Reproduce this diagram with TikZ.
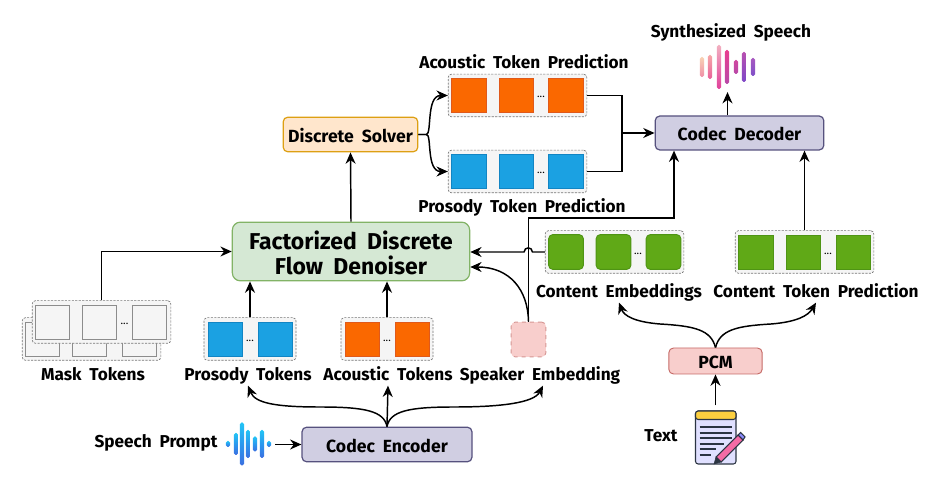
\documentclass[tikz,border=0pt]{standalone}
\usepackage{fontspec}
\setmainfont{Fira Sans}[WordSpace=1.9]
\usepackage{tikz}
\usetikzlibrary{arrows.meta,calc}

\definecolor{groupfill}{HTML}{F5F5F5}
\definecolor{groupline}{HTML}{777777}
\definecolor{orangefill}{HTML}{FA6800}
\definecolor{orangeline}{HTML}{E0591A}
\definecolor{bluefill}{HTML}{1BA1E2}
\definecolor{blueline}{HTML}{1285C4}
\definecolor{greenfill}{HTML}{60A917}
\definecolor{greenline}{HTML}{4F9414}
\definecolor{denoiserfill}{HTML}{D5E8D4}
\definecolor{denoiserline}{HTML}{82B366}
\definecolor{solverfill}{HTML}{FFE6CC}
\definecolor{solverline}{HTML}{DDA013}
\definecolor{codecfill}{HTML}{D0CEE2}
\definecolor{codecline}{HTML}{56517E}
\definecolor{pcmfill}{HTML}{F8CECC}
\definecolor{pcmline}{HTML}{C56A66}
\definecolor{notedark}{HTML}{2B3442}
\definecolor{wavecyan}{HTML}{22C4F5}
\definecolor{wavemid}{HTML}{2B98EE}
\definecolor{waveblue}{HTML}{3B6FE0}

\begin{document}
\begin{tikzpicture}[x=0.75pt,y=-0.75pt]
\tikzset{
	flow/.style = {line width = 1.1pt, -{Stealth[length = 8.5pt, width = 7.5pt]}},
	plain flow/.style = {line width = 1.1pt},
	label text/.style = {font = \fontsize{12.9}{14}\selectfont\bfseries, inner sep = 0, text height = 9pt, text depth = 0pt, outer ysep = 3.5pt},
	block/.style = {draw, rounded corners = 3.5pt, line width = 0.9pt, inner sep = 0, text height = 12pt, text depth = 0pt, font = \fontsize{13.2}{14}\selectfont\bfseries},
	group wide/.style = {draw = groupline, fill = groupfill, dash pattern = on 1.6pt off 1pt, line width = 0.5pt, rounded corners = 2.5pt, minimum width = 104pt, minimum height = 32pt, inner sep = 0},
	group narrow/.style = {group wide, minimum width = 69pt},
	token/.style = {draw, line width = 0.7pt, minimum size = 26pt, inner sep = 0},
	orange token/.style = {token, fill = orangefill, draw = orangeline},
	blue token/.style = {token, fill = bluefill, draw = blueline},
	green token/.style = {token, fill = greenfill, draw = greenline},
	mask token/.style = {token, fill = groupfill, draw = black!45, line width = 0.9pt},
	token dots/.style = {font = \fontsize{8}{8}\selectfont, inner sep = 0},
	icon box/.style = {inner sep = 0},
}
\useasboundingbox (0,0) rectangle (939,484);

% mask tokens, back row then front row
\node(mask back)[group wide] at (91.5,339){};
\foreach \n/\x in {1/42.5,2/89.5,3/139.5}
	\node(mb\n)[mask token] at (\x,339.5){};
\node(mask front)[group wide] at (101.5,322){};
\foreach \n/\x in {1/52.5,2/99.5,3/149.5}
	\node(mf\n)[mask token] at (\x,322.5){};
\node(mask dots)[token dots] at (124.5,324){...};
\node(mask label)[label text] at (93,375){Mask Tokens};

% input tokens
\node(prosody)[group narrow] at (250,339){};
\foreach \n/\x in {1/225.5,2/275.5}
	\node(pt\n)[blue token] at (\x,339.5){};
\node(prosody dots)[token dots] at (250,341){...};
\node(prosody label)[label text] at (248,375){Prosody Tokens};

\node(acoustic)[group narrow] at (387,339){};
\foreach \n/\x in {1/362.5,2/412.5}
	\node(at\n)[orange token] at (\x,339.5){};
\node(acoustic dots)[token dots] at (387,341){...};
\node(acoustic label)[label text] at (388,375){Acoustic Tokens};

\node(speaker)[token, draw = pcmline!70, fill = pcmfill, dashed, rounded corners = 3pt] at (528.5,339.5){};
\node(speaker label)[label text] at (540,375){Speaker Embedding};

% predictions
\node(acoustic pred)[group wide] at (517.5,95.5){};
\foreach \n/\x in {1/469,2/516.5,3/566}
	\node(ap\n)[orange token] at (\x,95.5){};
\node(acoustic pred dots)[token dots] at (541,97){...};
\node(acoustic pred label)[label text] at (524,63){Acoustic Token Prediction};

\node(prosody pred)[group wide] at (517.5,171.5){};
\foreach \n/\x in {1/469,2/516.5,3/566}
	\node(pp\n)[blue token] at (\x,171.5){};
\node(prosody pred dots)[token dots] at (541,173){...};
\node(prosody pred label)[label text] at (522,207){Prosody Token Prediction};

\node(content)[group wide] at (614.5,252){};
\foreach \n/\x in {1/566,2/613.5,3/663.5}
	\node(ce\n)[green token, rounded corners = 3pt] at (\x,252){};
\node(content dots)[token dots] at (638,254){...};
\node(content label)[label text] at (619,292){Content Embeddings};

\node(content pred)[group wide] at (804.5,252){};
\foreach \n/\x in {1/756,2/803.5,3/853.5}
	\node(cp\n)[green token] at (\x,252.5){};
\node(content pred dots)[token dots] at (828,254){...};
\node(content pred label)[label text] at (816,292){Content Token Prediction};

% main blocks
\node(denoiser)[block, fill = denoiserfill, draw = denoiserline, rounded corners = 6pt, minimum width = 178pt, minimum height = 44pt, align = center, text height = , text depth = , font = \fontsize{17.2}{19}\selectfont\bfseries] at (351,251.5){\rule{0pt}{16pt}Factorized Discrete\\Flow Denoiser};
\node(solver)[block, fill = solverfill, draw = solverline, minimum width = 101pt, minimum height = 26pt] at (350.5,134.5){Discrete Solver};
\node(decoder)[block, fill = codecfill, draw = codecline, minimum width = 126.5pt, minimum height = 25.5pt] at (739.5,133){Codec Decoder};
\node(encoder)[block, fill = codecfill, draw = codecline, minimum width = 127.5pt, minimum height = 26pt] at (387,444.5){Codec Encoder};
\node(pcm)[block, fill = pcmfill, draw = pcmline, line width = 0.7pt, minimum width = 70pt, minimum height = 19.5pt] at (715.5,361){PCM};

\node(prompt label)[label text] at (156,442){Speech Prompt};
\node(text label)[label text] at (661,435){Text};
\node(synth label)[label text] at (731,32){Synthesized Speech};

% waveforms
\node(prompt wave)[icon box, minimum width = 36pt, minimum height = 33pt] at (251,444.5){};
\foreach \x/\h in {228/3,236/11,242/21.5,248/14,255/7.5,262/14,269/3}
	\shade[rounded corners = 1.4pt, top color = wavecyan, bottom color = waveblue, middle color = wavemid] (\x-2.2,444-\h) rectangle (\x+2.2,444+\h);
\node(synth wave)[icon box, minimum width = 41pt, minimum height = 35pt] at (727.5,68.5){};
\foreach \x/\h/\t/\b in {702/10/F8D2B4/F08FA8,710/12/F6A8A8/E8609A,719/22/F2B0C0/E0409A,727/17/E83E90/B848A8,736/7/D048A0/B848A8,744/15/B850B0/7E48C8,753/9/A858C0/7E50C8}{
	\definecolor{wavetop}{HTML}{\t}
	\definecolor{wavebottom}{HTML}{\b}
	\shade[rounded corners = 1.4pt, top color = wavetop, bottom color = wavebottom] (\x-2.2,67-\h) rectangle (\x+2.2,67+\h);
}

% text icon
\node(note)[icon box, minimum width = 31pt, minimum height = 44pt] at (715.5,435){};
\draw[notedark, fill = blue!12, line width = 0.8pt, rounded corners = 2pt] (695.5,411) rectangle (736,464);
\draw[notedark, fill = yellow!55!orange!75, line width = 0.8pt, rounded corners = 2pt] (695.5,411) rectangle (736,419.5);
\foreach \y/\e in {427/732,433/732,438/732,444/724,449/716,455/711}
	\draw[notedark, line width = 0.8pt] (699.5,\y) -- (\e,\y);
\draw[notedark, fill = magenta!45!pink, line width = 0.8pt] (716,457) -- (738,435) -- (743,440) -- (721,462) -- cycle;
\draw[notedark, fill = blue!45, line width = 0.8pt] (738,435) -- (740.5,432.5) -- (745,437) -- (743,440) -- cycle;
\draw[notedark, fill = notedark] (716,457) -- (721,462) -- (714,464) -- cycle;

% connectors
\draw[flow] (mask front.north) |- (denoiser.west);
\draw[flow] (prosody.north) -- (prosody.north |- denoiser.south);
\draw[flow] (acoustic.north) -- (acoustic.north |- denoiser.south);
\draw[flow] (denoiser.north) -- (solver.south);
\draw[flow] (solver.east) -- ++(8,0) .. controls (432,134) and (426,95.5) .. (acoustic pred.west);
\draw[flow] (solver.east) -- ++(8,0) .. controls (432,134) and (426,171.5) .. (prosody pred.west);

\coordinate (merge) at (622,133);
\draw[plain flow] (acoustic pred.east) -| (merge) |- (prosody pred.east);
\draw[flow] (merge) -- (decoder.west);
\draw[flow] (decoder.north -| synth wave.south) -- (synth wave.south);
\draw[flow] (content pred.north) -- (content pred.north |- decoder.south);

\coordinate (bend) at (674,218);
\draw[flow] (speaker.north) |- (bend) -- (bend |- decoder.south);

\coordinate (jump right) at (532.5,252);
\coordinate (jump left) at (524,252);
\draw[flow] (content.west) -- (jump right) .. controls (532,246.5) and (524.5,246.5) .. (jump left) -- (denoiser.east |- jump left);
\coordinate (speaker in) at ($(denoiser.east)+(0,15.5)$);
\draw[flow] (speaker.north) .. controls (528,290) and (510,267) .. (speaker in);

\draw[flow] (prompt wave.east) -- (encoder.west);
\draw[flow] (encoder.north) -- (acoustic label.south);
\draw[flow] (encoder.north) .. controls (384,411) and (365,407) .. (320,407) .. controls (275,407) and (255,403) .. (prosody label.south);
\draw[flow] (encoder.north) .. controls (390,411) and (409,407) .. (454,407) .. controls (500,407) and (534,403) .. ($(speaker label.south)+(3,0)$);

\draw[flow] (note.north) -- (pcm.south);
\draw[flow] (pcm.north) .. controls (711,330) and (695,326) .. (660,324) .. controls (635,322) and (624,316) .. (content label.south);
\draw[flow] (pcm.north) .. controls (720,330) and (736,326) .. (771,324) .. controls (796,322) and (808,316) .. (content pred label.south);

\end{tikzpicture}
\end{document}
